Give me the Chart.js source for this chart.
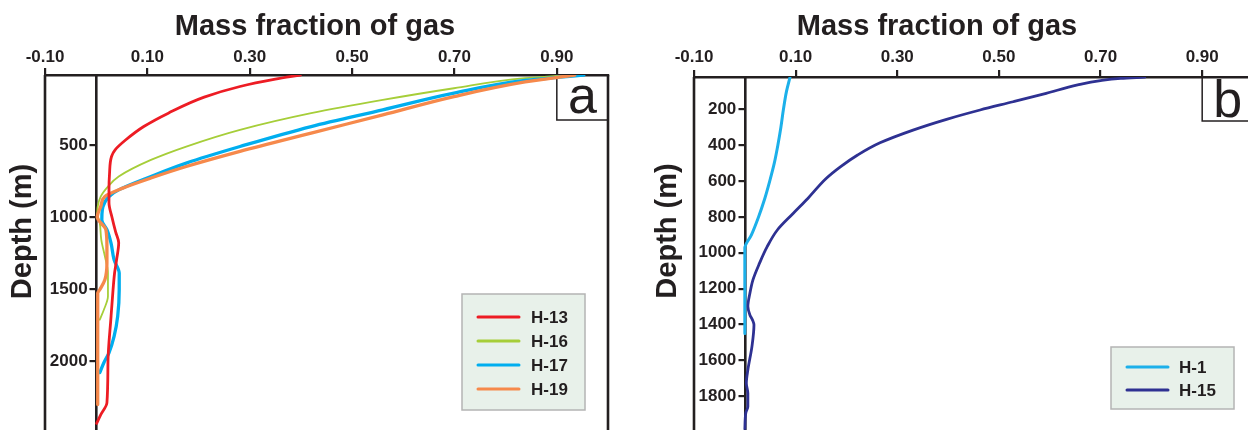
<!DOCTYPE html>
<html>
<head>
<meta charset="utf-8">
<script src="https://cdn.jsdelivr.net/npm/chart.js@4/dist/chart.umd.min.js"></script>
<style>
html,body{margin:0;padding:0;background:#fff;overflow:hidden;width:1248px;height:430px;}
.panel{position:absolute;top:0;height:430px;overflow:hidden;}
#pa{left:0;width:630px;}
#pb{left:630px;width:618px;}
canvas{display:block;}
</style>
</head>
<body>
<div class="panel" id="pa"><canvas id="ca" width="630" height="442"></canvas></div>
<div class="panel" id="pb"><canvas id="cb" width="630" height="442"></canvas></div>
<script>
// ---------- data ----------
const fracTicks = [-0.10, 0.10, 0.30, 0.50, 0.70, 0.90];
const fracTickLabels = ['-0.10', '0.10', '0.30', '0.50', '0.70', '0.90'];
const depthTicksA = [500, 1000, 1500, 2000];
const depthTicksB = [200, 400, 600, 800, 1000, 1200, 1400, 1600, 1800];

// Panel a
const depthH13 = [10, 39, 90, 164, 275, 368, 460, 530, 576, 700, 808, 898, 1000, 1100, 1176, 1290, 1384, 1500, 1690, 2009, 2287, 2370, 2430];
const gasH13   = [0.399, 0.35, 0.281, 0.211, 0.141, 0.093, 0.058, 0.037, 0.030, 0.026, 0.025, 0.025, 0.031, 0.038, 0.044, 0.040, 0.036, 0.033, 0.029, 0.023, 0.021, 0.009, 0.001];

const depthH16 = [10, 32, 102, 183, 275, 391, 507, 600, 715, 785, 854, 968, 1037, 1155, 1270, 1384, 1548, 1641, 1710];
const gasH16   = [0.925, 0.838, 0.699, 0.56, 0.42, 0.281, 0.176, 0.107, 0.044, 0.023, 0.009, 0.002, 0.007, 0.010, 0.017, 0.023, 0.023, 0.015, 0.007];

const depthH17 = [10, 48, 136, 252, 368, 507, 622, 715, 808, 854, 946, 1018, 1085, 1178, 1294, 1386, 1502, 1687, 1826, 1940, 2009, 2078];
const gasH17   = [0.953, 0.838, 0.699, 0.56, 0.42, 0.281, 0.176, 0.107, 0.044, 0.025, 0.012, 0.011, 0.021, 0.029, 0.035, 0.045, 0.045, 0.042, 0.035, 0.025, 0.015, 0.007];

const depthH19 = [10, 58, 160, 287, 414, 541, 646, 726, 796, 854, 923, 997, 1085, 1201, 1317, 1433, 1502, 1525, 1700, 2000, 2300];
const gasH19   = [0.935, 0.838, 0.699, 0.56, 0.42, 0.281, 0.176, 0.107, 0.052, 0.017, 0.009, 0.002, 0.019, 0.021, 0.021, 0.017, 0.007, 0.003, 0.003, 0.003, 0.003];

// Panel b
const depthH1 = [20, 100, 200, 300, 400, 500, 600, 700, 800, 900, 975, 1100, 1300, 1450];
const gasH1   = [0.089, 0.082, 0.076, 0.071, 0.065, 0.058, 0.049, 0.039, 0.027, 0.013, 0.0, 0.0, 0.0, 0.0];

const depthH15 = [21, 28, 40, 64, 111, 158, 204, 256, 316, 387, 455, 521, 586, 697, 781, 873, 966, 1058, 1151, 1226, 1300, 1347, 1374, 1402, 1523, 1653, 1727, 1783, 1857, 1892, 1987];
const gasH15   = [0.787, 0.74, 0.70, 0.655, 0.593, 0.528, 0.463, 0.397, 0.331, 0.266, 0.222, 0.188, 0.160, 0.124, 0.095, 0.064, 0.044, 0.029, 0.016, 0.010, 0.006, 0.010, 0.015, 0.018, 0.014, 0.006, 0.003, 0.006, 0.006, 0.002, 0.0];

// ---------- styling ----------
const INK = '#231f20';
const FONT = '"Liberation Sans", Arial, Helvetica, sans-serif';

function pts(depths, vals) { return depths.map((d, i) => ({ x: vals[i], y: d })); }
function ds(label, depths, vals, color, width, order) {
  return { label, data: pts(depths, vals), borderColor: color, backgroundColor: color,
           borderWidth: width, order, fill: false, pointRadius: 0 };
}

const decor = {
  id: 'panelDecor',
  beforeDraw(chart) {
    // place the y tick labels to the left of the tick marks
    const y = chart.scales.y;
    const items = y.getLabelItems(chart.chartArea);
    const shift = chart.options.plugins.panelDecor.labelShift;
    items.forEach(it => {
      if (!it._shifted) { it.options.translation[0] -= shift; it._shifted = true; }
    });
  },
  beforeDatasetsDraw(chart) {
    const o = chart.options.plugins.panelDecor;
    const { ctx, chartArea: a, scales: { x } } = chart;
    ctx.save();
    ctx.strokeStyle = INK;
    ctx.lineWidth = 2.6;
    ctx.beginPath();
    ctx.moveTo(a.left, a.top); ctx.lineTo(a.left, chart.height);
    ctx.moveTo(a.right, a.top); ctx.lineTo(a.right, chart.height);
    ctx.stroke();
    const bx = x.getPixelForValue(o.boxAt);
    ctx.lineWidth = 1.5;
    ctx.strokeRect(bx, a.top, a.right - bx, o.boxH);
    ctx.fillStyle = INK;
    ctx.font = '52px ' + FONT;
    ctx.textAlign = 'center';
    ctx.textBaseline = 'alphabetic';
    ctx.fillText(o.letter, (bx + a.right) / 2, a.top + o.letterBase);
    ctx.restore();
  },
  afterDatasetsDraw(chart) {
    const o = chart.options.plugins.panelDecor;
    const L = o.legend;
    const { ctx } = chart;
    ctx.save();
    ctx.fillStyle = '#e8f1ea';
    ctx.fillRect(L.x, L.y, L.w, L.h);
    ctx.strokeStyle = '#b4b4b4';
    ctx.lineWidth = 1.5;
    ctx.strokeRect(L.x, L.y, L.w, L.h);
    ctx.font = 'bold 17px ' + FONT;
    ctx.textAlign = 'left';
    ctx.textBaseline = 'middle';
    chart.data.datasets.forEach((d, i) => {
      const yy = L.row0 + i * L.gap;
      ctx.strokeStyle = d.borderColor;
      ctx.lineWidth = 3;
      ctx.lineCap = 'round';
      ctx.beginPath(); ctx.moveTo(L.l0, yy); ctx.lineTo(L.l1, yy); ctx.stroke();
      ctx.fillStyle = INK;
      ctx.fillText(d.label, L.tx, yy + 1);
    });
    ctx.restore();
  },
  afterDraw(chart) {
    const o = chart.options.plugins.panelDecor;
    const { ctx } = chart;
    ctx.save();
    ctx.fillStyle = INK;
    ctx.font = 'bold 29px ' + FONT;
    ctx.textAlign = 'center';
    ctx.textBaseline = 'alphabetic';
    ctx.fillText(o.title, o.titleX, o.titleY);
    ctx.translate(o.yTitleX, o.yTitleY);
    ctx.rotate(-Math.PI / 2);
    ctx.fillText(o.yTitle, 0, 0);
    ctx.restore();
  }
};

function makeChart(id, cfg) {
  const tickFont = { family: FONT, size: 17, weight: 'bold' };
  return new Chart(document.getElementById(id), {
    type: 'line',
    data: { datasets: cfg.datasets },
    options: {
      responsive: false,
      animation: false,
      events: [],
      indexAxis: 'y',
      layout: { padding: cfg.padding },
      elements: {
        point: { radius: 0, hoverRadius: 0 },
        line: { cubicInterpolationMode: 'monotone', borderCapStyle: 'round', borderJoinStyle: 'round' }
      },
      plugins: {
        legend: { display: false },
        tooltip: { enabled: false },
        title: { display: false },
        panelDecor: cfg.decor
      },
      scales: {
        x: {
          type: 'linear', position: 'top', min: -0.1, max: 1.0,
          afterBuildTicks: s => { s.ticks = fracTicks.map(v => ({ value: v })); },
          afterFit: s => { s.height = cfg.axisTop; },
          grid: { display: true, drawOnChartArea: false, drawTicks: true, tickLength: 7,
                  tickWidth: 2.2, tickColor: INK, color: INK, lineWidth: 2.2 },
          border: { display: true, color: INK, width: 2.6 },
          ticks: { color: INK, font: tickFont, padding: cfg.xPad, maxRotation: 0, autoSkip: false,
                   callback: (v, i) => fracTickLabels[i] }
        },
        y: {
          type: 'linear', position: { x: 0 }, reverse: true, min: cfg.yMin, max: cfg.yMax,
          afterBuildTicks: s => { s.ticks = cfg.yTicks.map(v => ({ value: v })); },
          grid: { display: true, drawOnChartArea: false, drawTicks: true, tickLength: 5.5,
                  tickWidth: 2.2, tickColor: INK, color: INK, lineWidth: 2.2 },
          border: { display: true, color: INK, width: 2.6 },
          ticks: { color: INK, font: tickFont, padding: 2, autoSkip: false,
                   callback: v => String(v) }
        }
      }
    },
    plugins: [decor]
  });
}

makeChart('ca', {
  datasets: [
    ds('H-13', depthH13, gasH13, '#ed1c24', 2.8, 0),
    ds('H-16', depthH16, gasH16, '#a6ce39', 1.8, 3),
    ds('H-17', depthH17, gasH17, '#00aeef', 3.3, 2),
    ds('H-19', depthH19, gasH19, '#f6894b', 3.3, 1)
  ],
  padding: { left: 45, right: 22, top: 0, bottom: 0 },
  axisTop: 75, xPad: 0, yMin: 10, yMax: 2475, yTicks: depthTicksA,
  decor: {
    title: 'Mass fraction of gas', titleX: 315, titleY: 35,
    yTitle: 'Depth (m)', yTitleX: 31, yTitleY: 231.5,
    letter: 'a', boxAt: 0.9, boxH: 45, letterBase: 38, labelShift: 8.5,
    legend: { x: 462, y: 294, w: 123, h: 116, row0: 317, gap: 24, l0: 478, l1: 519, tx: 531 }
  }
});

makeChart('cb', {
  datasets: [
    ds('H-1', depthH1, gasH1, '#1cb0ea', 3, 0),
    ds('H-15', depthH15, gasH15, '#2e3192', 2.8, 1)
  ],
  padding: { left: 64, right: 7, top: 0, bottom: 0 },
  axisTop: 77, xPad: 2, yMin: 20, yMax: 1987, yTicks: depthTicksB,
  decor: {
    title: 'Mass fraction of gas', titleX: 307, titleY: 35,
    yTitle: 'Depth (m)', yTitleX: 45.5, yTitleY: 231,
    letter: 'b', boxAt: 0.9, boxH: 44, letterBase: 40, labelShift: 8.5,
    legend: { x: 481, y: 347, w: 123, h: 62, row0: 367, gap: 23, l0: 497, l1: 538, tx: 549 }
  }
});
</script>
</body>
</html>
